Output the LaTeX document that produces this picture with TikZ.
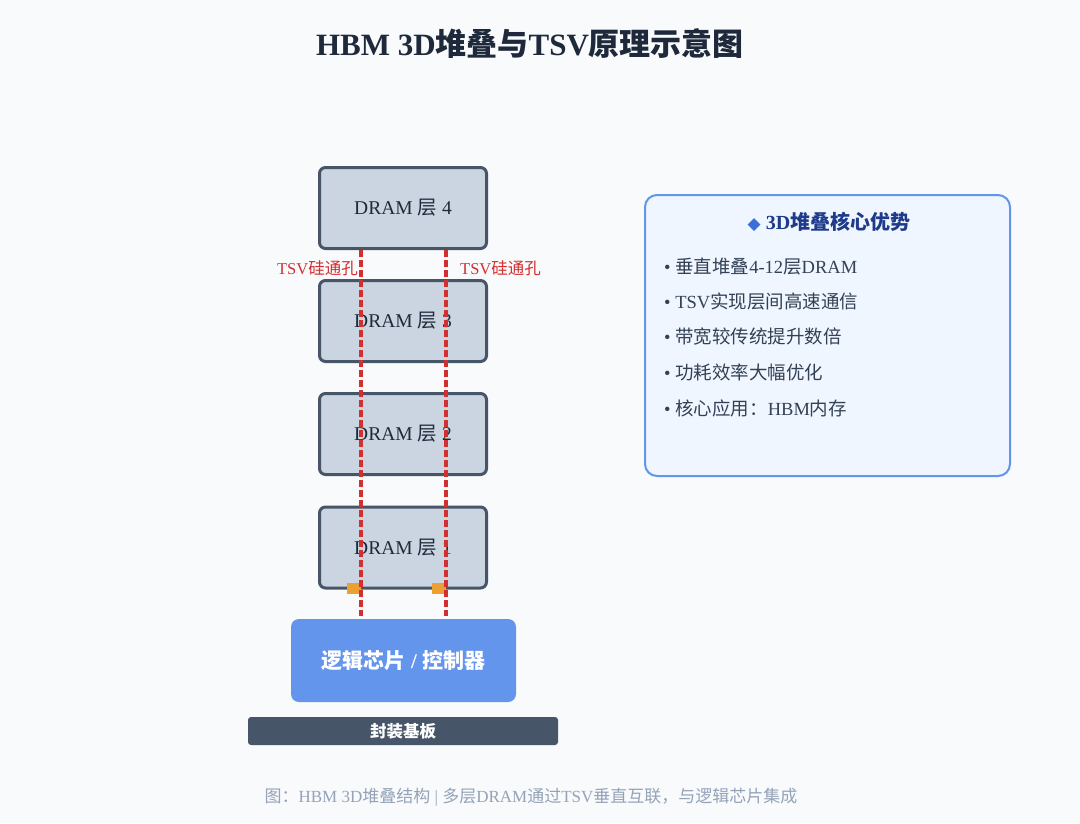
\documentclass[tikz,border=0pt]{standalone}
\usepackage{fontspec}
\setmainfont{Liberation Serif}
\newfontfamily\cjk{Noto Sans CJK SC}
\newfontfamily\symb{DejaVu Sans}
\newcommand\zh[1]{{\cjk #1}}
\definecolor{pageBg}{HTML}{F8FAFC}
\definecolor{ink}{HTML}{1E293B}
\definecolor{slateLight}{HTML}{CBD5E1}
\definecolor{slateDark}{HTML}{475569}
\definecolor{tsvRed}{RGB}{211,47,47}
\definecolor{padOrange}{RGB}{236,160,50}
\definecolor{logicBlue}{HTML}{6495ED}
\definecolor{panelFill}{HTML}{F0F6FF}
\definecolor{panelTitle}{HTML}{1E3A8A}
\definecolor{diamondBlue}{HTML}{3B6FD8}
\definecolor{bodyText}{HTML}{334155}
\definecolor{captionGrey}{HTML}{94A3B8}
\tikzset{
  dram/.style={draw=slateDark, line width=3pt, fill=slateLight, rounded corners=6pt,
    minimum width=167pt, minimum height=81pt, text=ink, font=\fontsize{19.5}{23}\selectfont},
  tsv/.style={draw=tsvRed, line width=4pt, dash pattern=on 7pt off 3pt},
  tsvlabel/.style={text=tsvRed, font=\fontsize{16.5}{19}\selectfont, inner sep=0pt},
  pad/.style={fill=padOrange, minimum width=14pt, minimum height=11pt, inner sep=0pt},
  point/.style={anchor=west, text=bodyText, inner sep=0pt, font=\fontsize{18.5}{22}\selectfont}
}
\begin{document}
\begin{tikzpicture}[x=1pt, y=-1pt]
  \useasboundingbox[fill=pageBg] (0,0) rectangle (1080,823);
  \node[text=ink, font=\bfseries\fontsize{31}{37}\selectfont] (title) at (530,44)
    {HBM 3D\zh{堆叠与}TSV\zh{原理示意图}};
  \foreach \i/\y in {4/208,3/321,2/434,1/547.5}
    \node[dram] (layer\i) at (403,\y) {DRAM \zh{层} \i};
  \node[fill=logicBlue, rounded corners=8pt, minimum width=225pt, minimum height=83pt,
    text=white, font=\bfseries\fontsize{21}{25}\selectfont] (logic) at (403.5,660.5)
    {\zh{逻辑芯片} / \zh{控制器}};
  \node[fill=slateDark, rounded corners=3pt, minimum width=310pt, minimum height=28pt,
    text=white, font=\bfseries\fontsize{16.5}{19}\selectfont] (substrate) at (403,731)
    {\zh{封装基板}};
  \node[pad, anchor=north east] (padA) at (361,583) {};
  \node[pad, anchor=north east] (padB) at (446,583) {};
  \coordinate (tsvAtop) at (361,250);
  \coordinate (tsvAbot) at (361,616);
  \coordinate (tsvBtop) at (446,250);
  \coordinate (tsvBbot) at (446,616);
  \draw[tsv] (tsvAtop) -- (tsvAbot);
  \draw[tsv] (tsvBtop) -- (tsvBbot);
  \node[tsvlabel, anchor=east] (tsvLabelA) at (358,268) {TSV\zh{硅通孔}};
  \node[tsvlabel, anchor=west] (tsvLabelB) at (460,268) {TSV\zh{硅通孔}};
  \node[draw=logicBlue, line width=2pt, fill=panelFill, rounded corners=12pt,
    minimum width=365pt, minimum height=281pt] (panel) at (827.5,335.5) {};
  \node[text=panelTitle, font=\bfseries\fontsize{20}{24}\selectfont] (panelHead) at (829,222)
    {{\symb\color{diamondBlue}\fontsize{17}{20}\selectfont ◆} 3D\zh{堆叠核心优势}};
  \node[point] (p1) at (664,267) {• \zh{垂直堆叠}4-12\zh{层}DRAM};
  \node[point] (p2) at (664,301) {• TSV\zh{实现层间高速通信}};
  \node[point] (p3) at (664,337) {• \zh{带宽较传统提升数倍}};
  \node[point] (p4) at (664,372) {• \zh{功耗效率大幅优化}};
  \node[point] (p5) at (664,408) {• \zh{核心应用：}HBM\zh{内存}};
  \node[text=captionGrey, font=\fontsize{17}{20}\selectfont] (caption) at (531,797)
    {\zh{图：}HBM 3D\zh{堆叠结构} | \zh{多层}DRAM\zh{通过}TSV\zh{垂直互联，与逻辑芯片集成}};
\end{tikzpicture}
\end{document}
